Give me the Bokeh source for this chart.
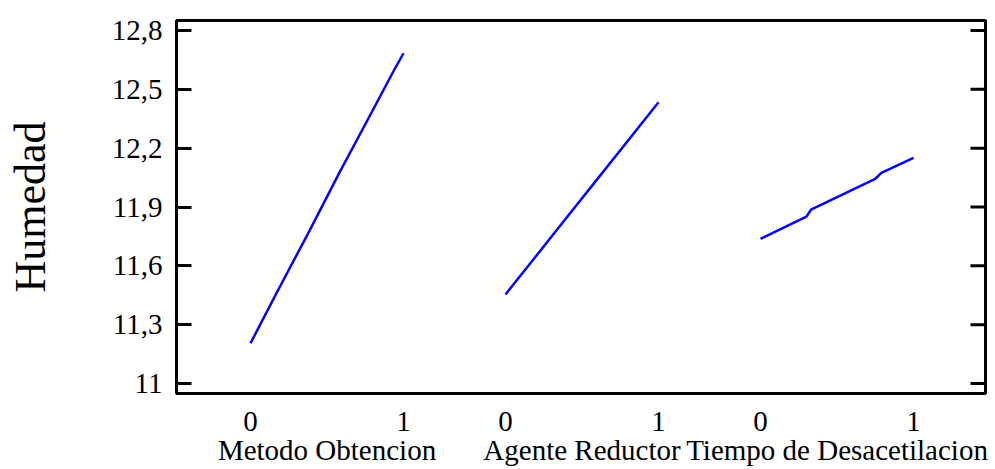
from bokeh.plotting import figure
from bokeh.models import LinearAxis, FixedTicker, Range1d
from bokeh.embed import file_html
from bokeh.resources import INLINE

# ---- data ----
factors = ["Metodo Obtencion", "Agente Reductor", "Tiempo de Desacetilacion"]
level_labels = ["0", "1"]
f1_x = [0.0, 0.185, 0.375, 0.577, 0.773, 0.937, 1.0]
f1_y = [11.205, 11.483, 11.763, 12.069, 12.355, 12.596, 12.684]
f2_x = [0.0, 0.2, 0.4, 0.6, 0.8, 1.0]
f2_y = [11.454, 11.650, 11.846, 12.042, 12.238, 12.434]
f3_x = [0.0, 0.30, 0.33, 0.75, 0.79, 1.0]
f3_y = [11.738, 11.851, 11.886, 12.044, 12.074, 12.151]
y_ticks = [11.0, 11.3, 11.6, 11.9, 12.2, 12.5, 12.8]
y_tick_labels = ["11", "11,3", "11,6", "11,9", "12,2", "12,5", "12,8"]
y_title = "Humedad"

FONT = "Liberation Serif"
step = 5.0 / 3.0  # horizontal spacing between factor panels (layout)
X0, X1 = -0.4837, 4.8037
px_per_x = 809.0 / (X1 - X0)

p = figure(width=990, height=469, output_backend="svg", toolbar_location=None,
           x_axis_type=None, x_range=Range1d(X0, X1),
           y_range=Range1d(10.949, 12.851),
           min_border_left=176, min_border_top=20, min_border_right=5,
           min_border_bottom=76)
p.background_fill_color = "white"
p.border_fill_color = "white"
p.outline_line_color = "black"
p.outline_line_width = 3
p.grid.visible = False

for i, (xs, ys) in enumerate([(f1_x, f1_y), (f2_x, f2_y), (f3_x, f3_y)]):
    p.line([x + i * step for x in xs], ys, line_color="#0000FF", line_width=2.5)

# right-side inward ticks, mirrored from the y ticks
tick_len = 15.0 / px_per_x
p.segment(x0=[X1] * len(y_ticks), y0=y_ticks,
          x1=[X1 - tick_len] * len(y_ticks), y1=y_ticks,
          line_color="black", line_width=3)

# left y axis
ya = p.yaxis[0]
ya.ticker = FixedTicker(ticks=y_ticks)
ya.major_label_overrides = {t: l for t, l in zip(y_ticks, y_tick_labels)}
ya.minor_tick_line_color = None
ya.major_tick_in = 15
ya.major_tick_out = 0
ya.major_tick_line_width = 3
ya.axis_line_color = None
ya.major_label_standoff = 14
ya.major_label_text_font = FONT
ya.major_label_text_font_size = "29px"
ya.major_label_text_color = "black"
ya.axis_label = y_title
ya.axis_label_text_font = FONT
ya.axis_label_text_font_size = "44px"
ya.axis_label_text_font_style = "normal"
ya.axis_label_text_color = "black"
ya.axis_label_standoff = 54

# bottom: level labels
level_ticks = []
level_over = {}
for i in range(len(factors)):
    for j, lab in enumerate(level_labels):
        t = i * step + j
        level_ticks.append(t)
        level_over[t] = lab
xa = LinearAxis(ticker=FixedTicker(ticks=level_ticks))
xa.major_label_overrides = level_over
xa.major_tick_in = 0
xa.major_tick_out = 0
xa.minor_tick_line_color = None
xa.axis_line_color = None
xa.major_label_standoff = 18
xa.major_label_text_font = FONT
xa.major_label_text_font_size = "29px"
xa.major_label_text_color = "black"
p.add_layout(xa, "below")

# bottom: factor names
name_ticks = [i * step + 0.5 for i in range(len(factors))]
na = LinearAxis(ticker=FixedTicker(ticks=name_ticks))
na.major_label_overrides = {t: n for t, n in zip(name_ticks, factors)}
na.major_tick_in = 0
na.major_tick_out = 0
na.minor_tick_line_color = None
na.axis_line_color = None
na.major_label_standoff = 0
na.major_label_text_font = FONT
na.major_label_text_font_size = "29px"
na.major_label_text_color = "black"
p.add_layout(na, "below")

open("out.html", "w").write(file_html(p, INLINE))
